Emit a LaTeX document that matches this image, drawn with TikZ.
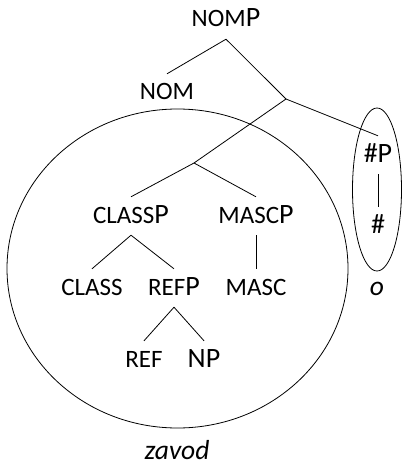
\documentclass[tikz,border=0pt]{standalone}
\usepackage{fontspec}
\setmainfont{Carlito}
\newcommand{\smc}[1]{{\fontsize{25pt}{25pt}\selectfont #1}}
\tikzset{
  lab/.style={inner sep=0pt, anchor=base, text height=26pt, text depth=12pt,
    font=\fontsize{28pt}{28pt}\selectfont},
  itlab/.style={lab, text depth=3pt, font=\fontsize{27.5pt}{27.5pt}\selectfont\itshape},
  edge/.style={line width=0.8pt},
}
\begin{document}
\begin{tikzpicture}[x=1pt,y=-1pt]
\useasboundingbox (0,0) rectangle (404,465);
% ellipses
\draw[edge] (177.5,268.5) ellipse [x radius=170.5, y radius=159.5];
\draw[edge] (377,189.5) ellipse [x radius=24.5, y radius=81.5];
% nodes
\node[lab] (nomp) at (226,27) {\smc{NOM}P};
\node[lab] (nom) at (167,100) {\smc{NOM}};
\coordinate (b1) at (286,99);
\node[lab] (hp) at (378,162) {\#P};
\node[lab] (hash) at (378,233) {\#};
\node[itlab] (o) at (377,295) {o};
\coordinate (b2) at (194,163);
\node[lab] (classp) at (131,223) {\smc{CLASS}P};
\node[lab] (mascp) at (256,223) {\smc{MASC}P};
\node[lab] (class) at (92,295) {\smc{CLASS}};
\node[lab] (refp) at (174,295) {\smc{REF}P};
\node[lab] (masc) at (256,295) {\smc{MASC}};
\node[lab] (ref) at (144,367) {\smc{REF}};
\node[lab] (np) at (204,367) {NP};
\node[itlab] (zavod) at (177,459) {zavod};
% connectors
\draw[edge] (nomp.south) -- (nom.north);
\draw[edge] (nomp.south) -- (b1);
\draw[edge] (b1) -- (hp.north);
\draw[edge] (b1) -- (b2);
\draw[edge] (b2) -- (classp.north);
\draw[edge] (b2) -- (mascp.north);
\draw[edge] (classp.south) -- (class.north);
\draw[edge] (classp.south) -- (refp.north);
\draw[edge] (mascp.south) -- (masc.north);
\draw[edge] (refp.south) -- (ref.north);
\draw[edge] (refp.south) -- (np.north);
\draw[edge] (hp.south) -- (hash.north);
\end{tikzpicture}
\end{document}
